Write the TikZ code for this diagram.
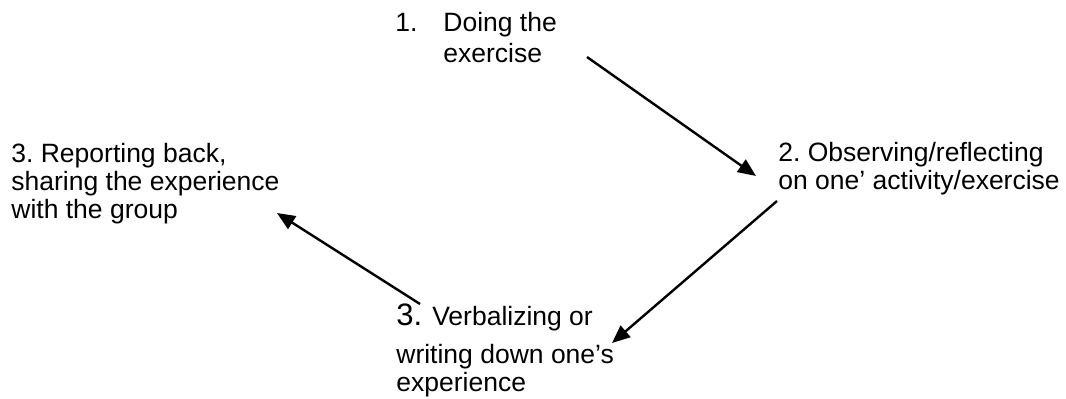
\documentclass[tikz,border=0pt]{standalone}
\usepackage{fontspec}
\setmainfont{Liberation Sans}
\usetikzlibrary{arrows.meta}
\frenchspacing

\begin{document}
\begin{tikzpicture}[x=0.5pt,y=-0.5pt,
	step label/.style={anchor=base west,inner sep=0pt,align=left,font=\fontsize{13.25}{14}\selectfont},
	cycle arrow/.style={-{Triangle[length=9pt,width=7.5pt]},line width=1.2pt}]
	\useasboundingbox (0,0) rectangle (1066,398);
	
	% nodes are placed at the baseline of their last line
	\node[step label,font=\fontsize{13.25}{15.5}\selectfont] (doing) at (395,62) {\makebox[24pt][l]{1.}Doing the\\\hspace*{24pt}exercise};
	\node[step label] (observe) at (778,189) {2. Observing/reflecting\\on one’ activity/exercise};
	\node[step label] (verbal) at (396,391) {{\fontsize{15.5}{14}\selectfont 3.}\hspace{5pt}Verbalizing or\\[5pt]writing down one’s\\experience};
	\node[step label] (report) at (11,218) {3. Reporting back,\\sharing the experience\\with the group};
	
	\coordinate (a1s) at (587,57);
	\coordinate (a1e) at (756,176);
	\coordinate (a2s) at (777,201);
	\coordinate (a2e) at (612,343);
	\coordinate (a3s) at (420,304);
	\coordinate (a3e) at (277,213);
	
	\draw[cycle arrow] (a1s)--(a1e);
	\draw[cycle arrow] (a2s)--(a2e);
	\draw[cycle arrow] (a3s)--(a3e);
	
\end{tikzpicture}
\end{document}
